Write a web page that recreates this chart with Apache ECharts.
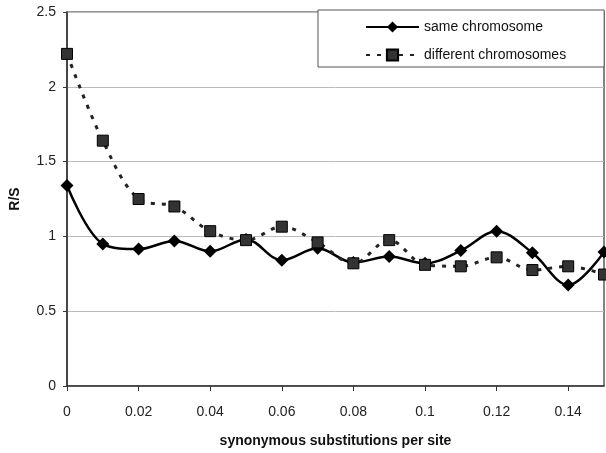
<!DOCTYPE html>
<html>
<head>
<meta charset="utf-8">
<script src="https://cdn.jsdelivr.net/npm/echarts@6/dist/echarts.min.js"></script>
<style>
  html, body { margin: 0; padding: 0; background: #fff; }
  #chart { width: 606px; height: 453px; }
</style>
</head>
<body>
<div id="chart"></div>
<script>
// x: synonymous substitutions per site
var xValues = [0, 0.01, 0.02, 0.03, 0.04, 0.05, 0.06, 0.07, 0.08, 0.09, 0.10, 0.11, 0.12, 0.13, 0.14, 0.15];
// R/S values
var sameChromosome = [1.34, 0.95, 0.915, 0.97, 0.90, 0.98, 0.84, 0.92, 0.825, 0.865, 0.82, 0.905, 1.035, 0.89, 0.675, 0.895];
var differentChromosomes = [2.22, 1.64, 1.25, 1.20, 1.035, 0.975, 1.065, 0.96, 0.82, 0.975, 0.81, 0.80, 0.86, 0.775, 0.80, 0.745];

function pairs(ys) {
  return xValues.map(function (x, i) { return [x, ys[i]]; });
}

var myChart = echarts.init(document.getElementById("chart"));
var font = "Liberation Sans";

myChart.setOption({
  animation: false,
  textStyle: { fontFamily: font },
  grid: {
    left: 64,
    right: 2,
    top: 12,
    bottom: 67,
    show: true,
    borderColor: "#333",
    borderWidth: 1.2,
  },
  // 图例，带边框
  legend: {
    orient: "vertical",
    left: 318,
    top: 10,
    padding: [10, 38, 5, 47],
    itemWidth: 53,
    itemHeight: 14,
    itemGap: 14,
    backgroundColor: "#fff",
    borderColor: "#555",
    borderWidth: 1,
    textStyle: { fontFamily: font, fontSize: 14, color: "#111" },
    data: ["same chromosome", "different chromosomes"],
  },
  xAxis: {
    type: "value",
    min: 0,
    max: 0.15,
    interval: 0.02,
    name: "synonymous substitutions per site",
    nameLocation: "middle",
    nameGap: 48,
    nameTextStyle: { fontFamily: font, fontSize: 14, fontWeight: "bold", color: "#111" },
    axisLine: { show: true, lineStyle: { color: "#333", width: 1.5 } },
    axisTick: { show: true, length: 5, lineStyle: { color: "#333" } },
    axisLabel: { margin: 19, fontSize: 14, color: "#222", showMaxLabel: false },
    splitLine: { show: false },
  },
  yAxis: {
    type: "value",
    min: 0,
    max: 2.5,
    interval: 0.5,
    name: "R/S",
    nameLocation: "middle",
    nameGap: 45,
    nameTextStyle: { fontFamily: font, fontSize: 14, fontWeight: "bold", color: "#111" },
    axisLine: { show: true, lineStyle: { color: "#333", width: 1.5 } },
    axisTick: { show: true, length: 4, lineStyle: { color: "#333" } },
    axisLabel: { margin: 11, fontSize: 14, color: "#222" },
    splitLine: { show: true, lineStyle: { color: "#bbb", width: 1 } },
  },
  series: [
    {
      name: "same chromosome",
      type: "line",
      smooth: 0.35,
      data: pairs(sameChromosome),
      symbol: "diamond",
      symbolSize: 13,
      itemStyle: { color: "#000" },
      lineStyle: { color: "#000", width: 2.5 },
    },
    {
      name: "different chromosomes",
      type: "line",
      smooth: 0.35,
      data: pairs(differentChromosomes),
      symbol: "rect",
      symbolSize: 11,
      itemStyle: { color: "#333", borderColor: "#000", borderWidth: 1 },
      lineStyle: { color: "#222", width: 3, type: [4, 7] },
    },
  ],
});
</script>
</body>
</html>
